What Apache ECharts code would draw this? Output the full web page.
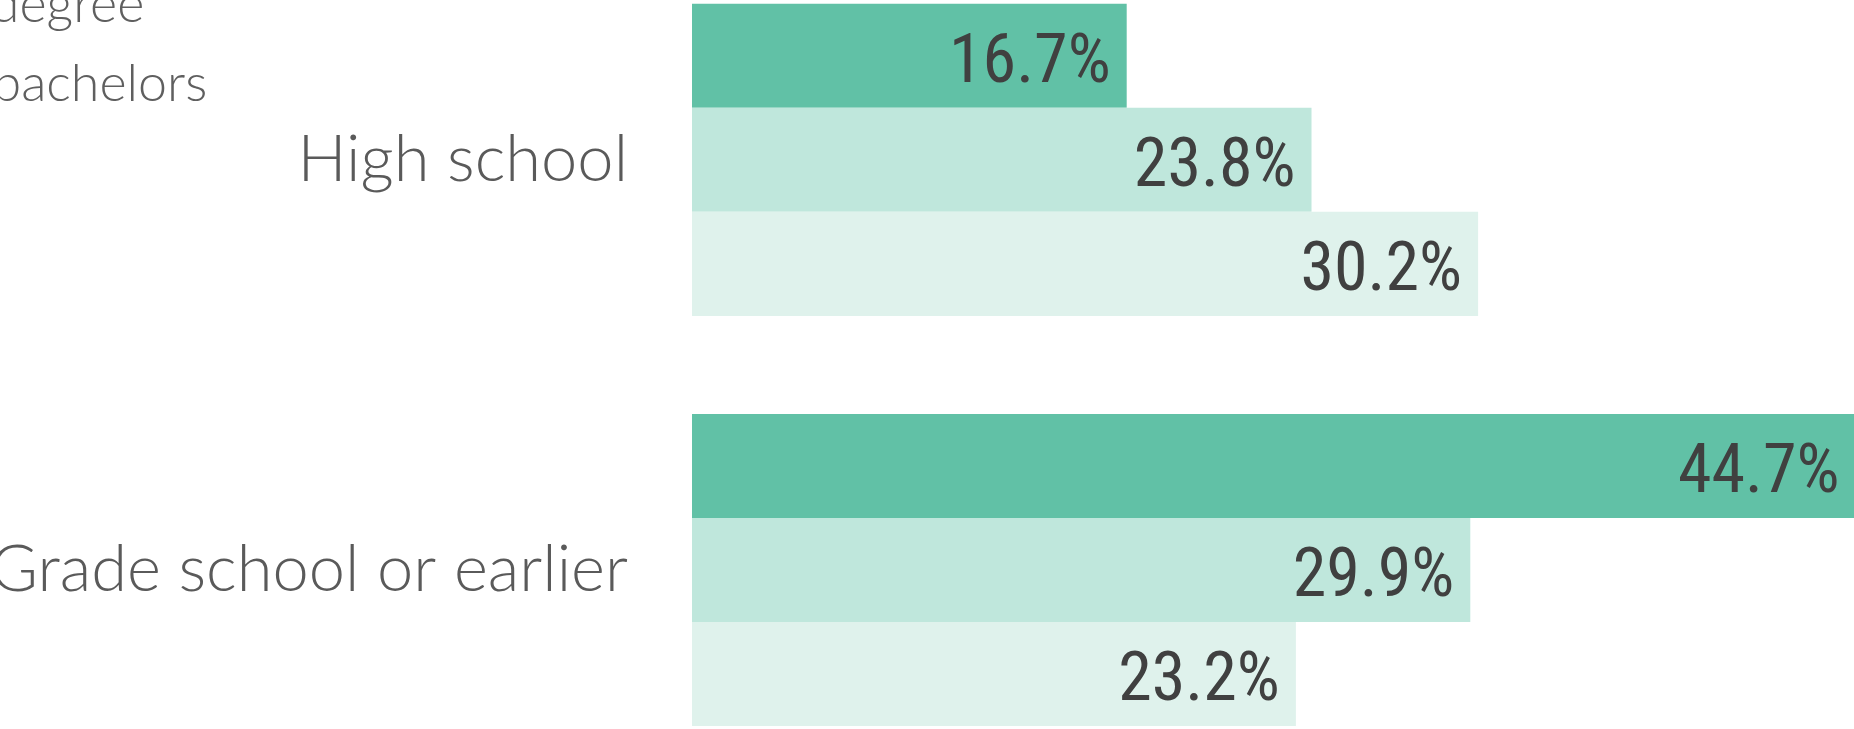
<!DOCTYPE html>
<html>
<head>
<meta charset="utf-8">
<script src="https://cdn.jsdelivr.net/npm/echarts@6/dist/echarts.min.js"></script>
<style>
  html, body { margin: 0; padding: 0; width: 1854px; height: 729px; overflow: hidden; background: #fff; }
  /* the picture is a crop of a bigger chart, so the chart box sticks out of the window */
  #main { position: absolute; left: -300px; top: -150px; width: 2300px; height: 925px; }
</style>
</head>
<body>
<div id="main"></div>
<script>
  // data
  const categories = ['High school', 'Grade school or earlier'];
  const seriesNames = ['Postgraduate', 'Graduate degree', 'Less than bachelors'];
  const darkValues = [16.7, 44.7];
  const mediumValues = [23.8, 29.9];
  const lightValues = [30.2, 23.2];
  const seriesColors = ['#61C1A6', '#BFE7DC', '#DFF2EC'];

  const valueLists = [darkValues, mediumValues, lightValues];

  let myChart = echarts.init(document.getElementById('main'));

  let series = seriesNames.map(function (name, i) {
    return {
      name: name,
      type: 'bar',
      data: valueLists[i],
      barGap: '0%',
      barCategoryGap: '23.9%',
      itemStyle: { color: seriesColors[i] },
      label: {
        show: true,
        position: 'insideRight',
        distance: 16,
        offset: [0, 9],
        formatter: function (p) { return p.value.toFixed(1) + '%'; },
        color: '#404040',
        fontSize: 68,
        fontFamily: "'Roboto Condensed', 'DejaVu Sans Condensed', sans-serif"
      }
    };
  });

  let option = {
    animation: false,
    legend: {
      orient: 'vertical',
      left: 34,
      top: 45,
      itemWidth: 25,
      itemHeight: 14,
      itemGap: 27,
      icon: 'rect',
      textStyle: { fontSize: 52, color: '#5f5f5f', fontFamily: 'Lato', fontWeight: 300 },
      data: seriesNames
    },
    grid: {
      left: 992,
      top: 104.8,
      width: 1301.5,
      height: 823.4
    },
    xAxis: {
      type: 'value',
      min: 0,
      max: 50,
      show: false
    },
    yAxis: {
      type: 'category',
      data: categories,
      inverse: true,
      axisLine: { show: false },
      axisTick: { show: false },
      splitLine: { show: false },
      axisLabel: {
        margin: 64,
        padding: [14, 0, 0, 0],
        fontSize: 65,
        color: '#5a5a5a',
        fontFamily: 'Lato',
        fontWeight: 300
      }
    },
    series: series
  };
  myChart.setOption(option);
</script>
</body>
</html>
